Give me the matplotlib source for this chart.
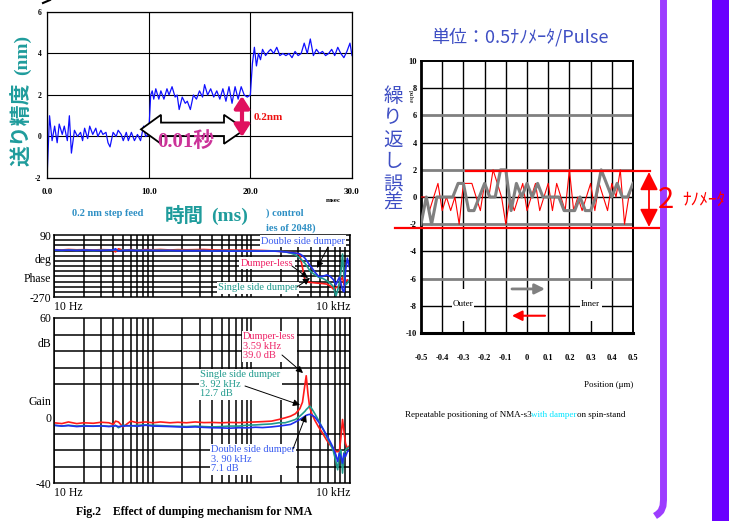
import numpy as np
import matplotlib
matplotlib.use('Agg')
import matplotlib.pyplot as plt
from matplotlib.patches import Polygon, Rectangle, FancyArrowPatch
from matplotlib.ticker import LogLocator, NullFormatter

W, H = 729, 521
SERIF = 'Liberation Serif'
JP = 'Noto Sans CJK JP'
plt.rcParams['font.family'] = [SERIF, JP]

# ---------------------------------------------------------------------------
# step feed response (ms, nm*10)
step_t = [0, 0.25, 0.5, 0.75, 1.0, 1.2, 1.5, 1.7, 2.0, 2.2, 2.4, 2.7, 3.0, 3.3, 3.5, 3.7, 4.0, 4.2,
          4.5, 4.8, 5.0, 5.3, 5.5, 5.8, 6.0, 6.2, 6.5, 6.8, 7.0, 7.3, 7.5, 7.8, 8.0, 8.3, 8.6, 8.9,
          9.2, 9.5, 9.7, 10.0,
          10.2, 10.35, 10.5, 10.7, 11.0, 11.2, 11.5, 11.8, 12.0, 12.3, 12.6, 12.8, 13.0, 13.3, 13.6,
          13.8, 14.1, 14.4, 14.7, 15.0, 15.3, 15.5, 15.8, 16.1, 16.4, 16.7, 17.0, 17.3, 17.6, 17.9,
          18.2, 18.5, 18.8, 19.1, 19.4, 19.7, 20.0,
          20.2, 20.4, 20.6, 20.8, 21.0, 21.2, 21.5, 21.8, 22.0, 22.3, 22.6, 22.9, 23.2, 23.5, 23.8,
          24.1, 24.4, 24.7, 25.0, 25.3, 25.6, 25.9, 26.2, 26.5, 26.8, 27.1, 27.4, 27.7, 28.0, 28.3,
          28.6, 28.9, 29.2, 29.5, 29.8, 30.0]
step_y = [-2, 1.0, -0.2, 0.5, -0.3, 0.6, 0.1, 0.5, -0.2, 1.0, -0.8, 0.3, 0.0, 0.2, -0.2, 0.4, -0.1, 0.5,
          0.1, 0.4, 0.0, 0.3, 0.1, 0.2, -0.3, -0.5, 0.2, 0.0, 0.3, 0.1, -0.2, 0.2, -0.2, 0.2, -0.2, 0.1,
          -0.2, 0.5, 0.0, 0.1,
          2.0, 2.2, 1.8, 2.3, 1.8, 2.2, 1.8, 2.3, 2.0, 2.4, 1.9, 2.0, 1.3, 1.9, 1.6,
          1.7, 1.3, 2.0, 1.8, 2.2, 1.9, 2.5, 2.0, 2.3, 1.9, 2.2, 1.8, 2.3, 1.7, 2.4,
          1.6, 2.4, 1.8, 2.4, 2.0, 1.9, 2.0,
          3.5, 4.3, 3.4, 4.0, 3.7, 4.2, 3.9, 4.1, 4.2, 4.0, 4.3, 3.9, 4.0, 3.9, 4.0,
          3.8, 4.1, 3.9, 4.0, 4.5, 4.0, 4.7, 3.9, 4.2, 4.0, 4.1, 3.9, 4.0, 4.2, 3.9,
          4.3, 4.0, 3.8, 4.1, 4.5, 3.9]
step_xticks = [0, 10, 20, 30]
step_xlabels = ['0.0', '10.0', '20.0', '30.0']
step_yticks = [-2, 0, 2, 4, 6]

# ---------------------------------------------------------------------------
# frequency response of the three NMA variants
freq = [10, 12, 14, 17, 20, 25, 30, 36, 40, 42, 45, 50, 60, 70, 85, 100, 120, 150, 180, 220,
        270, 330, 400, 500, 600, 750, 900, 1100, 1300,
        1600, 1900, 2200, 2500, 2800, 3100, 3300, 3500, 3600, 3750, 3900, 4100, 4400, 4800,
        5300, 5800, 6300, 6800, 7200, 7500, 7800, 8100, 8400, 8700, 9000, 9400, 10000]
gain_less = [-3.5, -4, -3, -4, -3.5, -3.8, -3.2, -3.5, -4.5, -2.5, -3, -6, -2.5, -3.5, -3, -3.5,
             -3, -3.5, -3.2, -3.5, -3, -3.4, -3.3, -3.5, -3.3, -3.4, -3.2, -3.0, -2.8,
             -2.5, -1.5, -0.5, 0.5, 2, 5, 9, 20, 25, 14, 6, 2, -2, -6,
             -10, -14, -17, -19, -21, -21, -21, -12, -1.5, -9, -16, -19, -17]
gain_single = [-5, -5.5, -5, -5.5, -5.2, -5.5, -5.3, -5.6, -5.5, -5, -6.5, -5, -5.5, -5, -4.8, -5,
               -5.2, -5.5, -5.6, -5.8, -5.5, -5.8, -6, -5.8, -5.5, -5.5, -5, -4.8, -4.5,
               -4.2, -3.5, -3.5, -2.5, -1.5, 0.5, 2, 3.5, 4.5, 5.5, 6.7, 5, 2, -2,
               -7, -12, -16, -21, -27, -32, -22, -20, -34, -22, -20, -19, -18]
gain_double = [-5, -5.5, -5.2, -5.8, -5.5, -5.6, -5.4, -5.8, -5.5, -5.3, -5.8, -5.5, -5.2, -5.6,
               -5, -5.5, -5.6, -5.8, -6, -6.2, -6, -6.3, -6.5, -6.6, -6.8, -6.5, -6.6, -6.2, -6.4,
               -6, -5.5, -5, -4.5, -3, -1.5, -0.5, 0.5, 1, 1.4, 1.6, 1.2, 0, -3,
               -7, -11, -15, -19, -23, -27, -22, -24, -28, -22, -24, -21, -20]
phase_less = [5, 3, 6, 4, 5, 3, 5, 4, 0, -8, 10, 2, 5, 3, 5, 4, 6, 3, 5, 4, 5, 6, 4, 3, 3, 2, 2, 1, 0,
              -2, -5, -8, -12, -15, -25, -100, -175, -180, -182, -185, -186, -188, -190,
              -192, -195, -205, -225, -215, -212, -200, -170, -155, -200, -180, -170, -185]
phase_single = [2, 0, 3, 1, 2, 0, 2, 1, 2, 5, -2, 2, 1, 2, 0, 1, 2, 0, 1, 0, 1, 0, -1, 0, -1, -1, -2,
                -2, -3,
                -2, -4, -8, -15, -25, -45, -60, -75, -84, -100, -115, -128, -140, -155,
                -162, -175, -190, -210, -265, -230, -190, -120, -20, -150, -200, -190, -165]
phase_double = [3, 1, 2, 0, 2, 1, 0, 2, 3, 10, -3, 0, 1, -1, 1, 0, -1, 0, -2, -1, -2, -1, -3, -2,
                -4, -3, -4, -3, -4,
                -3, -5, -8, -12, -15, -20, -30, -45, -55, -70, -85, -100, -125, -150,
                -150, -142, -150, -170, -200, -175, -155, -190, -230, -240, -120, -45, -110]

# ---------------------------------------------------------------------------
# repeat positioning error on spin-stand (pulses)
outer_err = [-2, 0, -2, 0, 0, 0, 0, 1, 1, -1, -1, 0, 1, 0, 0, 2, 2, -1, 1, 0,
             1, 0, 1, 0, 0, 0, 0, -1, -1, -1, 0, -1, -1, 0, 2, 1, 0, 1, 0, 0, 1]
inner_err = [0, 0, -1, 0, 1, -1, 0, -1, 0, -2, 1, 1, 1, 0, -1, 1, 0, 2, 1, 0, -2, 0, -1, 0, 1,
             -1, 0, 1, -1, 0, 1, -1, 1, 0, -1, 2, -1, 0, -1, 0, 1, -1, 1, 0, -1, 1, 0, 2, -2, 0, 1]
outer_pos = np.linspace(-0.5, 0.5, len(outer_err))
inner_pos = np.linspace(-0.5, 0.5, len(inner_err))
pos_ticks = [-0.5, -0.4, -0.3, -0.2, -0.1, 0, 0.1, 0.2, 0.3, 0.4, 0.5]
pos_labels = ['-0.5', '-0.4', '-0.3', '-0.2', '-0.1', '0', '0.1', '0.2', '0.3', '0.4', '0.5']
err_ticks = [-10, -8, -6, -4, -2, 0, 2, 4, 6, 8, 10]

RED = '#ff1a1a'
TEAL = '#1f9a8c'
BLUE = '#1f2fee'
JPBLUE = '#3f4fc4'
HEAD = '#1f9c9c'


def box(l, t, r, b):
    return [l / W, 1 - b / H, (r - l) / W, (b - t) / H]


def style_labels(ax, size, weight='normal'):
    for lbl in ax.get_xticklabels() + ax.get_yticklabels():
        lbl.set_fontsize(size)
        lbl.set_fontweight(weight)


fig = plt.figure(figsize=(W / 100, H / 100), dpi=100)

# ---------------------------------------------------------------------------
# 0.2 nm step feed
ax1 = fig.add_axes(box(47, 12, 352, 178))
ax1.plot(step_t, step_y, color='#1010ff', lw=0.9)
ax1.set_xlim(0, 30)
ax1.set_ylim(-2, 6)
ax1.set_xticks(step_xticks, step_xlabels)
ax1.set_yticks(step_yticks, [str(v) for v in step_yticks])
ax1.grid(True, color='black', lw=0.8)
ax1.tick_params(length=0)
ax1.tick_params(axis='x', pad=7)
ax1.tick_params(axis='y', pad=4)
style_labels(ax1, 6.5, 'bold')
for lbl in ax1.get_yticklabels():
    lbl.set_fontsize(5.5)
for s in ax1.spines.values():
    s.set_linewidth(0.9)

# ---------------------------------------------------------------------------
# phase and gain
def bode_axes(rect, lo, hi, step, ticks, labels):
    ax = fig.add_axes(rect)
    ax.set_xscale('log')
    ax.set_xlim(10, 10000)
    ax.set_ylim(lo, hi)
    ax.set_xticks([10, 10000], ['10 Hz', '10 kHz'])
    ax.xaxis.set_minor_locator(LogLocator(base=10, subs=np.arange(1, 10), numticks=30))
    ax.xaxis.set_minor_formatter(NullFormatter())
    ax.set_yticks(np.arange(lo, hi + 1, step), minor=True)
    ax.set_yticks(ticks, labels)
    ax.grid(True, which='both', axis='x', color='black', lw=1.1)
    ax.grid(True, which='minor', axis='y', color='black', lw=1.1)
    ax.tick_params(which='both', length=0, labelsize=8.5)
    ax.tick_params(axis='x', pad=3)
    ax.tick_params(axis='y', pad=2)
    xl = ax.get_xticklabels()
    xl[0].set_ha('left')
    xl[1].set_ha('right')
    for s in ax.spines.values():
        s.set_linewidth(1.1)
    return ax


ax2 = bode_axes(box(54, 235, 350, 297), -270, 90, 30,
                [90, -45, -155, -270], ['90', 'deg', 'Phase', '-270'])
ax2.plot(freq, phase_less, color=RED, lw=1.2)
ax2.plot(freq, phase_single, color=TEAL, lw=1.2)
ax2.plot(freq, phase_double, color=BLUE, lw=1.2)

ax3 = bode_axes(box(54, 318, 350, 483), -40, 60, 10,
                [60, 45, 10, 0, -40], ['60', 'dB', 'Gain', '0', '-40'])
ax3.plot(freq, gain_less, color=RED, lw=1.2)
ax3.plot(freq, gain_single, color=TEAL, lw=1.2)
ax3.plot(freq, gain_double, color=BLUE, lw=1.2)

# ---------------------------------------------------------------------------
# repeatable positioning
ax4 = fig.add_axes(box(421, 61, 633, 333))
ax4.set_xlim(-0.5, 0.5)
ax4.set_ylim(-10, 10)
for x in pos_ticks[1:-1]:
    ax4.axvline(x, color='black', lw=1.0, zorder=1)
for y in [-8, -4, 0, 4, 8]:
    ax4.axhline(y, color='black', lw=1.0, zorder=1)
for y in [-6, -2, 2, 6]:
    ax4.axhline(y, color='#808080', lw=2.0, zorder=1)
ax4.plot(inner_pos, inner_err, color='#ff0000', lw=0.8, zorder=3)
ax4.plot(outer_pos, outer_err, color='#808080', lw=2.2, zorder=4)
ax4.set_xticks(pos_ticks, pos_labels)
ax4.set_yticks(err_ticks, [str(v) for v in err_ticks])
ax4.tick_params(length=0, labelsize=6)
ax4.tick_params(axis='x', pad=15)
ax4.tick_params(axis='y', pad=3)
style_labels(ax4, 6, 'bold')
for s in ax4.spines.values():
    s.set_linewidth(1.4)
ax4.spines['bottom'].set_linewidth(2.2)
ax4.spines['left'].set_linewidth(2.0)
for xc, name in [(-0.3, 'Outer'), (0.3, 'Inner')]:
    ax4.add_patch(Rectangle((xc - 0.052, -9.1), 0.104, 2.3, fc='white', ec='none', zorder=5))
    ax4.text(xc, -7.9, name, ha='center', va='center', fontsize=6.5, zorder=6)
ax4.annotate('', xy=(0.085, -6.76), xytext=(-0.071, -6.76), zorder=6,
             arrowprops=dict(arrowstyle='-|>,head_length=0.6,head_width=0.3', color='#808080',
                             lw=2.0, shrinkA=0, shrinkB=0))
ax4.annotate('', xy=(-0.071, -8.73), xytext=(0.085, -8.73), zorder=6,
             arrowprops=dict(arrowstyle='-|>,head_length=0.6,head_width=0.3', color='#ff0000',
                             lw=1.5, shrinkA=0, shrinkB=0))

# ---------------------------------------------------------------------------
# overlay in pixel units for headings, arrows and side bars
ov = fig.add_axes([0, 0, 1, 1], zorder=10)
ov.set_xlim(0, W)
ov.set_ylim(H, 0)
ov.axis('off')
ov.patch.set_alpha(0)

ov.plot([43, 50], [3, 0], color='black', lw=1.5)

ov.text(22, 124, '送り精度', rotation=90, ha='center', va='center', fontsize=15,
        fontweight='bold', color=HEAD, family=[JP])
ov.text(22, 55, '(nm)', rotation=90, ha='center', va='center', fontsize=14,
        fontweight='bold', color=HEAD)
ov.text(72, 213, '0.2 nm step feed', ha='left', va='center', fontsize=7.5,
        fontweight='bold', color='#2d8fc4')
ov.text(266, 213, ') control', ha='left', va='center', fontsize=7.5,
        fontweight='bold', color='#2d8fc4')
ov.text(266, 228, 'ies of 2048)', ha='left', va='center', fontsize=7.5,
        fontweight='bold', color='#2d8fc4')
ov.text(184, 216, '時間', ha='center', va='center', fontsize=14, fontweight='bold',
        color=HEAD, family=[JP])
ov.text(230, 216, '(ms)', ha='center', va='center', fontsize=14, fontweight='bold', color=HEAD)
ov.text(333, 201, 'msec', ha='center', va='center', fontsize=5, fontweight='bold')

c = 129.3
ov.add_patch(Polygon([(141, c), (161, c - 14.5), (161, c - 6.7), (224, c - 6.7), (224, c - 14.5),
                      (245, c), (224, c + 14.5), (224, c + 6.7), (161, c + 6.7), (161, c + 14.5)],
                     closed=True, fc='white', ec='black', lw=1.3))
ov.text(186, 142, '0.01秒', ha='center', va='center', fontsize=15, fontweight='bold',
        color='#cc3399')
ov.add_patch(FancyArrowPatch((242, 137), (242, 96),
                             arrowstyle='<|-|>,head_length=0.7,head_width=0.45',
                             mutation_scale=10, lw=3, color='#e0115f', shrinkA=0, shrinkB=0))
ov.text(254, 118, '0.2nm', ha='left', va='center', fontsize=8, fontweight='bold', color='#ee1111')

# curve labels
arrow_kw = dict(arrowstyle='-|>,head_length=0.5,head_width=0.25', color='black', lw=0.7,
                shrinkA=0, shrinkB=0, mutation_scale=8)
white = dict(fc='white', ec='none', pad=1)
ov.text(303, 241, 'Double side dumper', ha='center', va='center', fontsize=7.5,
        color='#3a5cf0', bbox=white)
ov.annotate('', xy=(317, 268), xytext=(328, 247), arrowprops=arrow_kw)
ov.text(267, 263, 'Dumper-less', ha='center', va='center', fontsize=7.5, color='#ee2266',
        bbox=white)
ov.annotate('', xy=(308, 278), xytext=(292, 266), arrowprops=arrow_kw)
ov.text(258, 288, 'Single side dumper', ha='center', va='center', fontsize=7.5, color=TEAL,
        bbox=white)
ov.annotate('', xy=(310, 278), xytext=(297, 287), arrowprops=arrow_kw)

ov.text(243, 332, 'Dumper-less\n3.59 kHz\n39.0 dB', ha='left', va='top', fontsize=7.5,
        color='#ee2266', linespacing=1.1, bbox=white)
ov.annotate('', xy=(303, 373), xytext=(282, 355), arrowprops=arrow_kw)
ov.text(200, 370, 'Single side dumper\n3. 92 kHz\n12.7 dB', ha='left', va='top', fontsize=7.5,
        color=TEAL, linespacing=1.1, bbox=white)
ov.annotate('', xy=(300, 405), xytext=(245, 386), arrowprops=arrow_kw)
ov.text(211, 445, 'Double side dumper\n3. 90 kHz\n7.1 dB', ha='left', va='top', fontsize=7.5,
        color='#3a5cf0', linespacing=1.1, bbox=white)
ov.annotate('', xy=(306, 415), xytext=(293, 449), arrowprops=arrow_kw)

ov.text(194, 512, 'Fig.2    Effect of dumping mechanism for NMA', ha='center', va='center',
        fontsize=8.5, fontweight='bold')

# right panel headings
ov.text(520, 37, '単位：0.5ﾅﾉﾒｰﾀ/Pulse', ha='center', va='center', fontsize=13,
        color=JPBLUE, family=[JP])
for ch, yc in zip('繰り返し誤差', [97, 118, 141, 162, 184, 203]):
    ov.text(393, yc, ch, ha='center', va='center', fontsize=14, color=JPBLUE, family=[JP])
ov.text(410, 97, 'pulse', rotation=-90, ha='center', va='center', fontsize=4.5)
ov.text(633, 385, 'Position (μm)', ha='right', va='center', fontsize=6.5)
ov.text(405, 415, 'Repeatable positioning of NMA-s3', ha='left', va='center', fontsize=6.5)
ov.text(531, 415, 'with damper', ha='left', va='center', fontsize=6.5, color='#00e5ff')
ov.text(577, 415, 'on spin-stand', ha='left', va='center', fontsize=6.5)

ov.plot([466, 650], [170.5, 170.5], color='#ff0000', lw=1.6)
ov.plot([395, 663], [227.5, 227.5], color='#ff0000', lw=1.6)
ov.add_patch(FancyArrowPatch((649, 172), (649, 227),
                             arrowstyle='<|-|>,head_length=1.0,head_width=0.5',
                             mutation_scale=11, lw=1.3, color='#ff0000', shrinkA=0, shrinkB=0))

# side bars
ov.plot([663.5, 663.5, 663, 661, 658, 655], [0, 500, 506, 511, 514, 516], color='#9d3dff',
        lw=5, solid_capstyle='butt')
ov.add_patch(Rectangle((712, 0), 17, H, fc='#6a00ff', ec='none'))

ov.text(666, 200, '2', ha='center', va='center', fontsize=21, color='#ff0000', family=[JP])
ov.text(682, 201, 'ﾅﾉﾒｰﾀ', ha='left', va='center', fontsize=12.5, color='#ff0000', family=[JP])

fig.savefig('out.png', dpi=100, facecolor='white')
